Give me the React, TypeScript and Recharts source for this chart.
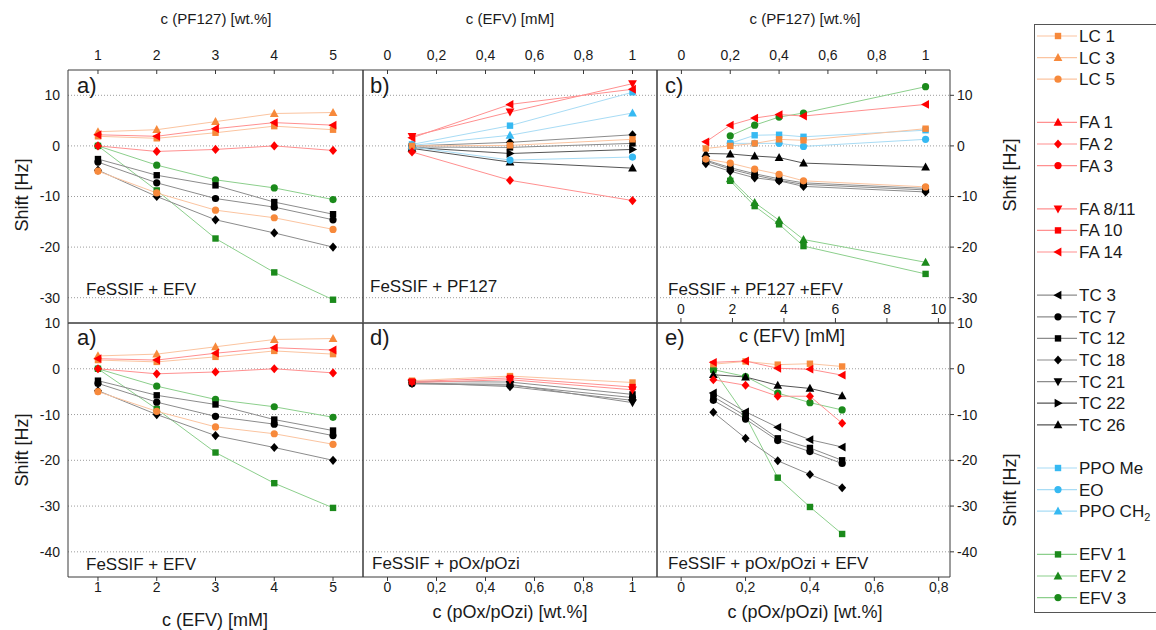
import React from 'react';
import { LineChart, Line, XAxis, YAxis, ReferenceLine } from 'recharts';

type Vals = (number | null)[];

// panel a (drawn in both rows): c(EFV) 1..5 mM
const X_A = [1, 2, 3, 4, 5];
const SERIES_A: [string, Vals][] = [
  ['EFV 1', [0, -8.8, -18.3, -25.0, -30.4]],
  ['EFV 3', [0, -3.8, -6.7, -8.3, -10.6]],
  ['TC 7', [-3.2, -7.3, -10.4, -12.1, -14.6]],
  ['TC 12', [-2.6, -5.8, -7.8, -11.1, -13.5]],
  ['TC 18', [-4.8, -10.0, -14.6, -17.2, -20.0]],
  ['LC 1', [1.9, 1.5, 2.6, 3.9, 3.2]],
  ['LC 3', [2.8, 3.2, 4.8, 6.4, 6.6]],
  ['LC 5', [-5.0, -9.3, -12.7, -14.2, -16.5]],
  ['FA 2', [0, -1.1, -0.7, 0, -0.9]],
  ['FA 14', [2.2, 1.9, 3.4, 4.6, 4.1]],
];

// panel b: FeSSIF + PF127
const X_B = [0.1, 0.5, 1];
const SERIES_B: [string, Vals][] = [
  ['TC 12', [-0.2, -0.3, 0.5]],
  ['TC 18', [0, 0.7, 2.2]],
  ['TC 22', [-0.3, -1.5, -0.7]],
  ['TC 26', [-0.5, -3.2, -4.4]],
  ['PPO Me', [0.3, 4.0, 10.6]],
  ['EO', [-0.2, -2.8, -2.2]],
  ['PPO CH2', [0.1, 2.1, 6.5]],
  ['LC 1', [0, 0.1, 1.3]],
  ['FA 2', [-1.2, -6.8, -10.8]],
  ['FA 8/11', [1.9, 6.7, 12.3]],
  ['FA 14', [1.6, 8.2, 11.2]],
];

// panel c: FeSSIF + PF127 + EFV
const X_C = [0.1, 0.2, 0.3, 0.4, 0.5, 1.0];
const SERIES_C: [string, Vals][] = [
  ['EFV 1', [null, -6.9, -11.9, -15.5, -19.8, -25.3]],
  ['EFV 2', [null, -6.5, -11.2, -14.7, -18.5, -23.0]],
  ['EFV 3', [null, 2.0, 4.1, 5.7, 6.5, 11.7]],
  ['TC 7', [-3.0, -4.6, -5.8, -6.8, -7.6, -8.7]],
  ['TC 12', [-2.8, -4.3, -5.5, -6.5, -7.3, -8.4]],
  ['TC 18', [-3.5, -5.0, -6.3, -6.9, -8.0, -9.1]],
  ['TC 26', [-1.5, -1.6, -2.0, -2.3, -3.4, -4.2]],
  ['PPO Me', [null, 0.5, 2.1, 2.2, 1.8, 3.1]],
  ['EO', [null, 0.5, 0.5, 0.5, -0.1, 1.3]],
  ['LC 1', [-0.5, 0, 0.5, 1.3, 1.1, 3.4]],
  ['LC 5', [-2.6, -3.4, -4.6, -5.6, -6.9, -8.1]],
  ['FA 14', [0.8, 4.1, 5.5, 6.2, 5.9, 8.2]],
];

// panel d: FeSSIF + pOx/pOzi
const X_D = [0.1, 0.5, 1];
const SERIES_D: [string, Vals][] = [
  ['TC 7', [-3.3, -3.6, -6.3]],
  ['TC 12', [-2.8, -2.9, -5.6]],
  ['TC 18', [-3.0, -3.9, -6.9]],
  ['TC 21', [-3.2, -3.4, -7.4]],
  ['LC 1', [-2.6, -1.6, -3.0]],
  ['FA 10', [-2.8, -2.0, -4.0]],
  ['FA 8/11', [-3.0, -2.4, -4.6]],
];

// panel e: FeSSIF + pOx/pOzi + EFV
const X_E = [0.1, 0.2, 0.3, 0.4, 0.5];
const SERIES_E: [string, Vals][] = [
  ['EFV 1', [-0.2, -10.3, -23.8, -30.2, -36.1]],
  ['EFV 3', [-0.2, -1.7, -5.3, -7.4, -9.0]],
  ['TC 3', [-5.3, -9.4, -12.8, -15.5, -17.1]],
  ['TC 7', [-6.9, -11.0, -15.7, -18.1, -20.7]],
  ['TC 12', [-6.1, -10.3, -15.2, -17.3, -20.0]],
  ['TC 18', [-9.5, -15.2, -20.1, -23.1, -26.0]],
  ['TC 26', [-1.3, -1.8, -3.6, -4.3, -5.9]],
  ['LC 1', [1.0, 1.6, 0.9, 1.1, 0.5]],
  ['FA 2', [-2.4, -3.6, -6.0, -6.0, -11.9]],
  ['FA 14', [1.4, 1.7, 0.1, -0.1, -1.4]],
];

const TICKS_A = [1, 2, 3, 4, 5];
const TICKS_01 = [0, 0.2, 0.4, 0.6, 0.8, 1];
const TICKS_08 = [0, 0.2, 0.4, 0.6, 0.8];
const TICKS_EFV10 = [0, 2, 4, 6, 8, 10];
const Y_TICKS_TOP = [10, 0, -10, -20, -30];
const Y_TICKS_BOTTOM = [10, 0, -10, -20, -30, -40];

const LEGEND_GROUPS = [
  ['LC 1', 'LC 3', 'LC 5'],
  ['FA 1', 'FA 2', 'FA 3'],
  ['FA 8/11', 'FA 10', 'FA 14'],
  ['TC 3', 'TC 7', 'TC 12', 'TC 18', 'TC 21', 'TC 22', 'TC 26'],
  ['PPO Me', 'EO', 'PPO CH2'],
  ['EFV 1', 'EFV 2', 'EFV 3'],
];

type Shape = 'square' | 'circle' | 'up' | 'down' | 'left' | 'right' | 'diamond';
const ORANGE = '#f7893b';
const RED = '#ff0000';
const BLACK = '#000000';
const BLUE = '#36b9f2';
const GREEN = '#1b8a1b';
const L_ORANGE = '#fbc4a0';
const L_RED = '#ff9090';
const L_GRAY = '#8c8c8c';
const L_BLUE = '#a8dcf5';
const L_GREEN = '#8ccf8c';

const STYLE: Record<string, { c: string; l: string; s: Shape }> = {
  'LC 1': { c: ORANGE, l: L_ORANGE, s: 'square' },
  'LC 3': { c: ORANGE, l: L_ORANGE, s: 'up' },
  'LC 5': { c: ORANGE, l: L_ORANGE, s: 'circle' },
  'FA 1': { c: RED, l: L_RED, s: 'up' },
  'FA 2': { c: RED, l: L_RED, s: 'diamond' },
  'FA 3': { c: RED, l: L_RED, s: 'circle' },
  'FA 8/11': { c: RED, l: L_RED, s: 'down' },
  'FA 10': { c: RED, l: L_RED, s: 'square' },
  'FA 14': { c: RED, l: L_RED, s: 'left' },
  'TC 3': { c: BLACK, l: L_GRAY, s: 'left' },
  'TC 7': { c: BLACK, l: L_GRAY, s: 'circle' },
  'TC 12': { c: BLACK, l: L_GRAY, s: 'square' },
  'TC 18': { c: BLACK, l: L_GRAY, s: 'diamond' },
  'TC 21': { c: BLACK, l: L_GRAY, s: 'down' },
  'TC 22': { c: BLACK, l: '#555555', s: 'right' },
  'TC 26': { c: BLACK, l: '#555555', s: 'up' },
  'PPO Me': { c: BLUE, l: L_BLUE, s: 'square' },
  'EO': { c: BLUE, l: L_BLUE, s: 'circle' },
  'PPO CH2': { c: BLUE, l: L_BLUE, s: 'up' },
  'EFV 1': { c: GREEN, l: L_GREEN, s: 'square' },
  'EFV 2': { c: GREEN, l: L_GREEN, s: 'up' },
  'EFV 3': { c: GREEN, l: L_GREEN, s: 'circle' },
};

const FONT = "'Liberation Sans', Arial, Helvetica, sans-serif";
const AXIS_COLOR = '#3a3a3a';
const TEXT_COLOR = '#1a1a1a';
const PAD = 60;
const AX_H = 30;
const AX_W = 40;
const tickStyle = { fontSize: 14, fill: TEXT_COLOR, fontFamily: FONT };
const fmt = (v: number) => String(v).replace('.', ',');

function marker(shape: Shape, x: number, y: number, fill: string, key?: string) {
  switch (shape) {
    case 'square':
      return <rect key={key} x={x - 3.2} y={y - 3.2} width={6.4} height={6.4} fill={fill} />;
    case 'circle':
      return <circle key={key} cx={x} cy={y} r={3.6} fill={fill} />;
    case 'up':
      return <polygon key={key} points={`${x},${y - 4.6} ${x + 4.4},${y + 3.4} ${x - 4.4},${y + 3.4}`} fill={fill} />;
    case 'down':
      return <polygon key={key} points={`${x},${y + 4.6} ${x + 4.4},${y - 3.4} ${x - 4.4},${y - 3.4}`} fill={fill} />;
    case 'left':
      return <polygon key={key} points={`${x - 4.6},${y} ${x + 3.4},${y - 4.4} ${x + 3.4},${y + 4.4}`} fill={fill} />;
    case 'right':
      return <polygon key={key} points={`${x + 4.6},${y} ${x - 3.4},${y - 4.4} ${x - 3.4},${y + 4.4}`} fill={fill} />;
    default:
      return <polygon key={key} points={`${x},${y - 4.6} ${x + 4},${y} ${x},${y + 4.6} ${x - 4},${y}`} fill={fill} />;
  }
}

type AxisCfg = { domain: [number, number]; ticks: number[]; labels: boolean; mirror?: boolean };
type PanelCfg = {
  x0: number; y0: number; w: number; h: number;
  xs: number[]; series: [string, Vals][];
  data: 't' | 'b';
  top: AxisCfg; bottom: AxisCfg;
  yDomain: [number, number]; yTicks: number[];
  leftLabels: boolean; rightLabels: boolean;
};

function Panel(p: PanelCfg) {
  const rows = p.xs.map((x, i) => {
    const r: Record<string, number | null> = { x };
    p.series.forEach(([n, v]) => { r[n] = v[i]; });
    return r;
  });
  const axisLine = { stroke: AXIS_COLOR, strokeWidth: 1 };
  return (
    <div style={{ position: 'absolute', left: p.x0 - PAD, top: p.y0 - PAD }}>
      <LineChart
        width={p.w + 2 * PAD}
        height={p.h + 2 * PAD}
        data={rows}
        margin={{ top: PAD - AX_H, bottom: p.bottom.mirror ? PAD : PAD - AX_H, left: PAD - AX_W, right: PAD - AX_W }}
      >
        <XAxis xAxisId="t" orientation="top" dataKey="x" type="number" height={AX_H}
          domain={p.top.domain} ticks={p.top.ticks} allowDataOverflow interval={0}
          axisLine={axisLine} stroke={AXIS_COLOR}
          tick={p.top.labels ? tickStyle : false} tickLine={p.top.labels}
          tickFormatter={fmt} tickSize={-4} tickMargin={14} />
        <XAxis xAxisId="b" orientation="bottom" dataKey="x" type="number" height={AX_H}
          mirror={!!p.bottom.mirror}
          domain={p.bottom.domain} ticks={p.bottom.ticks} allowDataOverflow interval={0}
          axisLine={axisLine} stroke={AXIS_COLOR}
          tick={p.bottom.labels ? tickStyle : false} tickLine={p.bottom.labels}
          tickFormatter={fmt} tickSize={p.bottom.mirror ? 5 : 4} tickMargin={p.bottom.mirror ? 4 : 1} />
        <YAxis yAxisId="l" orientation="left" type="number" width={AX_W}
          domain={p.yDomain} ticks={p.yTicks} allowDataOverflow interval={0}
          axisLine={axisLine} stroke={AXIS_COLOR}
          tick={p.leftLabels ? tickStyle : false} tickLine={false} tickSize={0} tickMargin={8} />
        <YAxis yAxisId="r" orientation="right" type="number" width={AX_W}
          domain={p.yDomain} ticks={p.yTicks} allowDataOverflow interval={0}
          axisLine={axisLine} stroke={AXIS_COLOR}
          tick={p.rightLabels ? tickStyle : false} tickLine={p.rightLabels} tickSize={4} tickMargin={3} />
        {p.yTicks.map((t) => (
          <ReferenceLine key={`g${t}`} y={t} yAxisId="l" xAxisId={p.data} stroke="#9c9c9c" strokeDasharray="1 2" />
        ))}
        {p.series.map(([n]) => {
          const st = STYLE[n];
          return (
            <Line key={n} xAxisId={p.data} yAxisId="l" dataKey={n} stroke={st.l} strokeWidth={1}
              activeDot={false} isAnimationActive={false}
              dot={(d: any) =>
                d.value == null || !Number.isFinite(d.cy)
                  ? <g key={`${n}-${d.index}`} />
                  : marker(st.s, d.cx, d.cy, st.c, `${n}-${d.index}`)
              } />
          );
        })}
      </LineChart>
    </div>
  );
}

const PANELS: PanelCfg[] = [
  {
    x0: 68, y0: 70, w: 295, h: 253, xs: X_A, series: SERIES_A, data: 't',
    top: { domain: [0.49, 5.51], ticks: TICKS_A, labels: true },
    bottom: { domain: [0.49, 5.51], ticks: TICKS_A, labels: false },
    yDomain: [-35, 15], yTicks: Y_TICKS_TOP, leftLabels: true, rightLabels: false,
  },
  {
    x0: 363, y0: 70, w: 294, h: 253, xs: X_B, series: SERIES_B, data: 't',
    top: { domain: [-0.1, 1.1], ticks: TICKS_01, labels: true },
    bottom: { domain: [-0.1, 1.1], ticks: TICKS_01, labels: false },
    yDomain: [-35, 15], yTicks: Y_TICKS_TOP, leftLabels: false, rightLabels: false,
  },
  {
    x0: 657, y0: 70, w: 293, h: 253, xs: X_C, series: SERIES_C, data: 't',
    top: { domain: [-0.1, 1.1], ticks: TICKS_01, labels: true },
    bottom: { domain: [-0.93, 10.45], ticks: TICKS_EFV10, labels: true, mirror: true },
    yDomain: [-35, 15], yTicks: Y_TICKS_TOP, leftLabels: false, rightLabels: true,
  },
  {
    x0: 68, y0: 323, w: 295, h: 254, xs: X_A, series: SERIES_A, data: 'b',
    top: { domain: [0.49, 5.51], ticks: TICKS_A, labels: false },
    bottom: { domain: [0.49, 5.51], ticks: TICKS_A, labels: true },
    yDomain: [-45.5, 10], yTicks: Y_TICKS_BOTTOM, leftLabels: true, rightLabels: false,
  },
  {
    x0: 363, y0: 323, w: 294, h: 254, xs: X_D, series: SERIES_D, data: 'b',
    top: { domain: [-0.1, 1.1], ticks: TICKS_01, labels: false },
    bottom: { domain: [-0.1, 1.1], ticks: TICKS_01, labels: true },
    yDomain: [-45.5, 10], yTicks: Y_TICKS_BOTTOM, leftLabels: false, rightLabels: false,
  },
  {
    x0: 657, y0: 323, w: 293, h: 254, xs: X_E, series: SERIES_E, data: 'b',
    top: { domain: [-0.075, 0.835], ticks: TICKS_08, labels: false },
    bottom: { domain: [-0.075, 0.835], ticks: TICKS_08, labels: true },
    yDomain: [-45.5, 10], yTicks: Y_TICKS_BOTTOM, leftLabels: false, rightLabels: true,
  },
];

function Txt({ x, y, size, center = false, rotate = false, children }: {
  x: number; y: number; size: number; center?: boolean; rotate?: boolean; children: React.ReactNode;
}) {
  return (
    <div style={{
      position: 'absolute', left: x, top: y, fontSize: size, fontFamily: FONT, color: TEXT_COLOR,
      whiteSpace: 'nowrap', lineHeight: 1,
      transform: `translate(${center ? '-50%' : '0'}, -50%)${rotate ? ' rotate(-90deg)' : ''}`,
    }}>{children}</div>
  );
}

function LegendBox() {
  const items: React.ReactNode[] = [];
  let row = 0;
  LEGEND_GROUPS.forEach((g, gi) => {
    if (gi > 0) row += 1;
    g.forEach((name) => {
      const st = STYLE[name];
      const y = 13 + row * 21.6;
      items.push(
        <g key={name}>
          <line x1={3} x2={43} y1={y} y2={y} stroke={st.l} strokeWidth={1.2} />
          {marker(st.s, 24, y, st.c)}
          <text x={45} y={y + 6} fontSize={17} fontFamily={FONT} fill={TEXT_COLOR}>
            {name === 'PPO CH2' ? <>PPO CH<tspan fontSize={11} dy={4}>2</tspan></> : name}
          </text>
        </g>
      );
      row += 1;
    });
  });
  return (
    <svg width={130} height={592} style={{ position: 'absolute', left: 1034, top: 23 }}>
      <rect x={0.5} y={1.5} width={140} height={588} fill="none" stroke="#555" strokeWidth={1} />
      {items}
    </svg>
  );
}

export default function App() {
  return (
    <div style={{ position: 'fixed', left: 0, top: 0, width: 1156, height: 630, background: '#fff', overflow: 'hidden' }}>
      {PANELS.map((p, i) => <Panel key={i} {...p} />)}

      <Txt x={216} y={18} size={15} center>c (PF127) [wt.%]</Txt>
      <Txt x={510} y={18} size={15} center>c (EFV) [mM]</Txt>
      <Txt x={805} y={18} size={15} center>c (PF127) [wt.%]</Txt>

      <Txt x={215} y={620} size={18} center>c (EFV) [mM]</Txt>
      <Txt x={510} y={612} size={18} center>c (pOx/pOzi) [wt.%]</Txt>
      <Txt x={805} y={612} size={18} center>c (pOx/pOzi) [wt.%]</Txt>
      <Txt x={792} y={336} size={18} center>c (EFV) [mM]</Txt>

      <Txt x={22} y={195} size={18} center rotate>Shift [Hz]</Txt>
      <Txt x={22} y={450} size={18} center rotate>Shift [Hz]</Txt>
      <Txt x={1010} y={175} size={18} center rotate>Shift [Hz]</Txt>
      <Txt x={1010} y={490} size={18} center rotate>Shift [Hz]</Txt>

      <Txt x={77} y={86} size={22}>a)</Txt>
      <Txt x={370} y={86} size={22}>b)</Txt>
      <Txt x={665} y={86} size={22}>c)</Txt>
      <Txt x={77} y={338} size={22}>a)</Txt>
      <Txt x={370} y={338} size={22}>d)</Txt>
      <Txt x={665} y={338} size={22}>e)</Txt>

      <Txt x={86} y={289} size={17}>FeSSIF + EFV</Txt>
      <Txt x={370} y={286} size={17}>FeSSIF + PF127</Txt>
      <Txt x={668} y={289} size={17}>FeSSIF + PF127 +EFV</Txt>
      <Txt x={86} y={564} size={17}>FeSSIF + EFV</Txt>
      <Txt x={372} y={563} size={17}>FeSSIF + pOx/pOzi</Txt>
      <Txt x={668} y={563} size={17}>FeSSIF + pOx/pOzi + EFV</Txt>

      <LegendBox />
    </div>
  );
}
